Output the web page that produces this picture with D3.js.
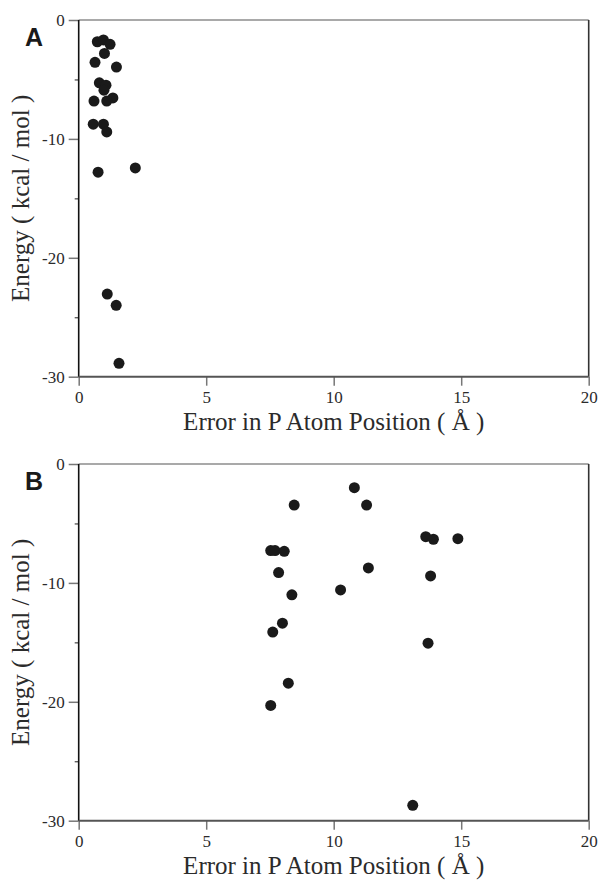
<!DOCTYPE html>
<html lang="en">
  <head>
    <meta charset="utf-8">
    <title>Energy vs P atom error</title>
    <script src="https://d3js.org/d3.v7.min.js"></script>
    <style>
    body { margin: 0; background: #fff; }
    </style>
  </head>
  <body>
    <div id="chart"></div>
    <script>
      // panel A: error (Å) and energy (kcal/mol)
      var errA = [0.73, 0.97, 1.23, 1.01, 0.64, 1.48, 0.81, 1.07, 0.99, 1.34,
                  1.10, 0.60, 0.57, 0.97, 1.10, 0.76, 2.22, 1.12, 1.47, 1.58];
      var enA  = [-1.83, -1.68, -2.05, -2.81, -3.56, -3.96, -5.28, -5.48, -5.9, -6.55,
                  -6.82, -6.82, -8.76, -8.76, -9.41, -12.8, -12.44, -23.05, -24.0, -28.87];
      // panel B
      var errB = [10.81, 8.45, 11.29, 7.53, 7.70, 8.06, 7.84, 11.36, 8.36, 10.27,
                  7.99, 7.61, 13.61, 13.91, 14.87, 13.80, 13.70, 8.22, 7.53, 13.10];
      var enB  = [-1.99, -3.45, -3.45, -7.28, -7.28, -7.34, -9.13, -8.74, -11.0, -10.59,
                  -13.39, -14.14, -6.11, -6.33, -6.28, -9.41, -15.07, -18.43, -20.31, -28.71];

      var xTicks = [0, 5, 10, 15, 20];
      var yTicks = [0, -10, -20, -30];
      var yMinor = [-5, -15, -25];

      var serif = "'Liberation Serif', 'Times New Roman', Times, serif";
      var sans = "'Liberation Sans', Arial, Helvetica, sans-serif";

      var svg = d3.select("#chart").append("svg")
        .attr("width", 598).attr("height", 882);

      var x = d3.scaleLinear().domain([0, 20]).range([78.7, 588.7]);

      function panel(label, xs, ys, top, bottom) {
        var y = d3.scaleLinear().domain([0, -30]).range([top, bottom]);
        var g = svg.append("g");

        // y axis, major + minor ticks
        var ya = g.append("g").attr("transform", "translate(" + x(0) + ",0)")
          .call(d3.axisLeft(y).tickValues(yTicks).tickSize(10).tickPadding(4)
            .tickFormat(function (d) { return String(d); }));
        ya.select(".domain").remove();
        ya.selectAll("line").attr("stroke", "#777").attr("stroke-width", 1.5);
        ya.selectAll("text").attr("font-size", 17).attr("fill", "#2b2b2b")
          .style("font-family", serif);
        var ym = g.append("g").attr("transform", "translate(" + x(0) + ",0)")
          .call(d3.axisLeft(y).tickValues(yMinor).tickSize(4).tickFormat(""));
        ym.select(".domain").remove();
        ym.selectAll("line").attr("stroke", "#444").attr("stroke-width", 1.2);

        // x axis
        var xa = g.append("g").attr("transform", "translate(0," + bottom + ")")
          .call(d3.axisBottom(x).tickValues(xTicks).tickSize(9).tickPadding(5));
        xa.select(".domain").remove();
        xa.selectAll("line").attr("stroke", "#777").attr("stroke-width", 1.5);
        xa.selectAll("text").attr("font-size", 17).attr("fill", "#2b2b2b")
          .style("font-family", serif);

        // frame
        g.append("line").attr("x1", x(0)).attr("x2", x(20)).attr("y1", top).attr("y2", top)
          .attr("stroke", "#8c8c8c").attr("stroke-width", 1.6);
        g.append("line").attr("x1", x(20)).attr("x2", x(20)).attr("y1", top).attr("y2", bottom)
          .attr("stroke", "#333").attr("stroke-width", 1.6);
        g.append("line").attr("x1", x(0)).attr("x2", x(0)).attr("y1", top).attr("y2", bottom)
          .attr("stroke", "#111").attr("stroke-width", 1.6);
        g.append("line").attr("x1", x(0)).attr("x2", x(20)).attr("y1", bottom).attr("y2", bottom)
          .attr("stroke", "#555").attr("stroke-width", 2);

        g.selectAll("circle").data(xs).enter().append("circle")
          .attr("cx", function (d) { return x(d); })
          .attr("cy", function (d, i) { return y(ys[i]); })
          .attr("r", 5.5)
          .attr("fill", "#1a1a1a");

        g.append("text")
          .attr("x", 25).attr("y", top + 26)
          .attr("font-size", 25).attr("font-weight", "bold").attr("fill", "#1a1a1a")
          .style("font-family", sans)
          .text(label);

        g.append("text")
          .attr("x", (x(0) + x(20)) / 2).attr("y", bottom + 53)
          .attr("text-anchor", "middle").attr("font-size", 25).attr("fill", "#2b2b2b")
          .style("font-family", serif)
          .text("Error in P Atom Position ( \u00c5 )");

        g.append("text")
          .attr("transform", "translate(29," + (top + bottom) / 2 + ") rotate(-90)")
          .attr("text-anchor", "middle").attr("font-size", 25).attr("fill", "#2b2b2b")
          .style("font-family", serif)
          .text("Energy ( kcal / mol )");
      }

      panel("A", errA, enA, 20, 376.7);
      panel("B", errB, enB, 464, 820.7);
    </script>
  </body>
</html>
